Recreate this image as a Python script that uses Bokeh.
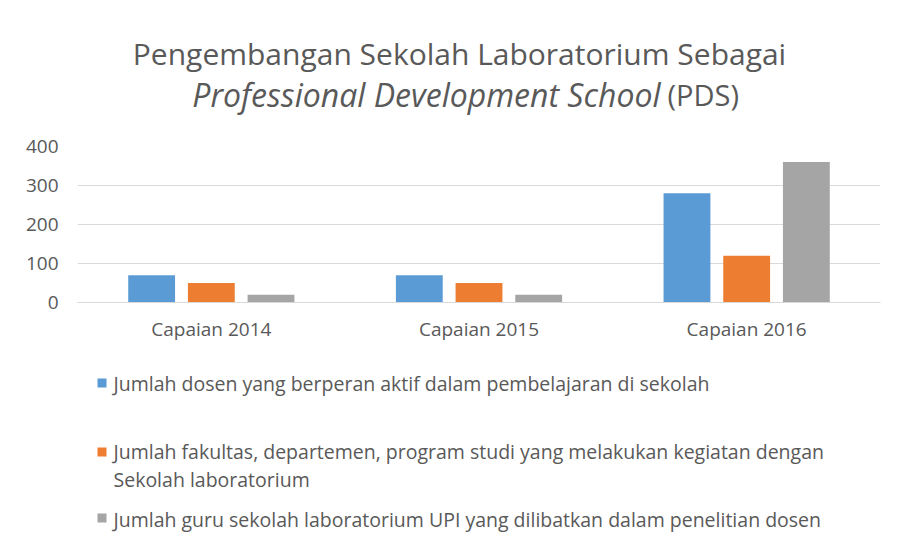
from bokeh.plotting import figure
from bokeh.layouts import column
from bokeh.models import ColumnDataSource, FactorRange, Range1d, SingleIntervalTicker
from bokeh.core.properties import value
from bokeh.transform import dodge
from bokeh.embed import file_html
from bokeh.resources import INLINE

categories = ["Capaian 2014", "Capaian 2015", "Capaian 2016"]
dosen = [70, 70, 280]
fakultas = [50, 50, 120]
guru = [20, 20, 360]

series_names = [
    "Jumlah dosen yang berperan aktif dalam pembelajaran di sekolah",
    "Jumlah fakultas, departemen, program studi yang melakukan kegiatan dengan\nSekolah laboratorium",
    "Jumlah guru sekolah laboratorium UPI yang dilibatkan dalam penelitian dosen",
]
title_line1 = "Pengembangan Sekolah Laboratorium Sebagai"
title_line2_italic = "Professional Development School"
title_line2_plain = "(PDS)"
colors = ["#5B9BD5", "#ED7D31", "#A5A5A5"]

FONT = "Open Sans"
TXT = "#595959"
W = 881
FL, FR = 77, 1
TOP_H, MAIN_H, LEG_H = 128, 232, 179
MT = 18  # main figure top border -> frame top at y=146


def blank(h, y0, y1):
    f = figure(width=W, height=h, x_range=Range1d(FL, W - FR), y_range=Range1d(y1, y0),
               output_backend="svg", toolbar_location=None,
               min_border_left=FL, min_border_right=FR, min_border_top=0, min_border_bottom=0,
               x_axis_location=None, y_axis_location=None)
    f.grid.visible = False
    f.outline_line_color = None
    f.border_fill_color = "white"
    return f


# ---- title ----
pt = blank(TOP_H, 0, TOP_H)
pt.text(x=[459], y=[53], text=[title_line1], text_align="center", text_baseline="alphabetic",
        text_font=value(FONT), text_font_size="30px", text_color=TXT)
pt.text(x=[660], y=[94], text=[title_line2_italic], text_align="right", text_baseline="alphabetic",
        text_font=value(FONT), text_font_size="32px", text_font_style="italic", text_color=TXT)
pt.text(x=[667], y=[94], text=[title_line2_plain], text_align="left", text_baseline="alphabetic",
        text_font=value(FONT), text_font_size="29px", text_color=TXT)

# ---- main chart ----
source = ColumnDataSource(dict(cat=categories, dosen=dosen, fakultas=fakultas, guru=guru))
p = figure(width=W, height=MAIN_H, x_range=FactorRange(*categories, range_padding=0),
           y_range=Range1d(0, 400), output_backend="svg", toolbar_location=None,
           min_border_left=FL, min_border_right=FR, min_border_top=MT,
           min_border_bottom=MAIN_H - MT - 156)
p.outline_line_color = None
p.border_fill_color = "white"

offs = [-0.223, 0.0, 0.223]
for key, off, col in zip(["dosen", "fakultas", "guru"], offs, colors):
    p.vbar(x=dodge("cat", off, range=p.x_range), top=key, width=0.175, bottom=0,
           source=source, fill_color=col, line_color=None)

p.yaxis.ticker = SingleIntervalTicker(interval=100)
p.yaxis.axis_line_color = None
p.yaxis.major_tick_line_color = None
p.yaxis.major_tick_out = 0
p.yaxis.major_tick_in = 0
p.yaxis.minor_tick_line_color = None
p.yaxis.major_label_text_font = FONT
p.yaxis.major_label_text_font_size = "19px"
p.yaxis.major_label_text_color = TXT
p.yaxis.major_label_standoff = 15

p.xaxis.axis_line_color = "#d9d9d9"
p.xaxis.major_tick_line_color = None
p.xaxis.major_tick_out = 0
p.xaxis.major_tick_in = 0
p.xaxis.minor_tick_line_color = None
p.xaxis.major_label_text_font = FONT
p.xaxis.major_label_text_font_size = "19px"
p.xaxis.major_label_text_color = TXT
p.xaxis.major_label_standoff = 13

p.xgrid.grid_line_color = None
p.ygrid.grid_line_color = "#d9d9d9"

# ---- legend ----
Y0 = TOP_H + MAIN_H
pl = blank(LEG_H, Y0, Y0 + LEG_H)
sq_top = [378, 447, 513]
base = [383, 451, 519]
pl.quad(left=[97] * 3, right=[106] * 3, top=sq_top, bottom=[t + 9 for t in sq_top],
        fill_color=colors, line_color=None)
for bl, name in zip(base, series_names):
    for k, line in enumerate(name.split("\n")):
        pl.text(x=[113], y=[bl + 28 * k], text=[line], text_align="left",
                text_baseline="alphabetic", text_font=value(FONT),
                text_font_size="19.5px", text_color=TXT)

layout = column(pt, p, pl, spacing=0)
open("out.html", "w").write(file_html(layout, INLINE))
